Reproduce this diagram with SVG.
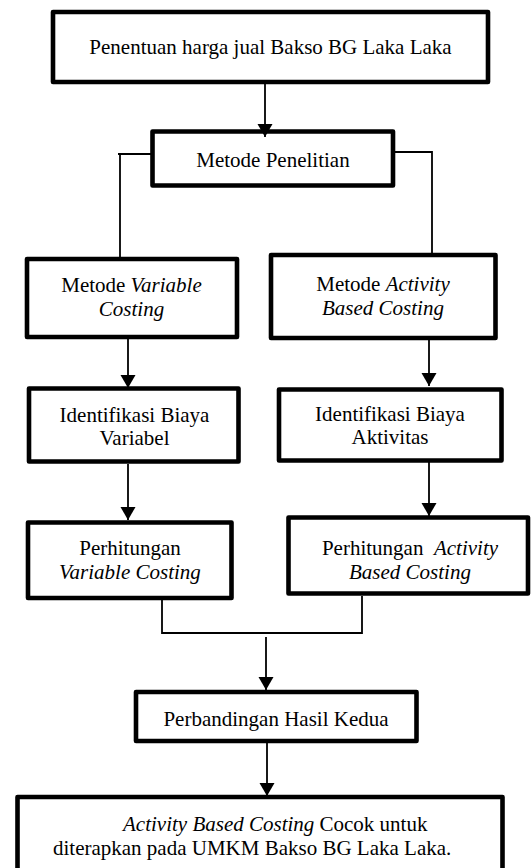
<svg xmlns="http://www.w3.org/2000/svg" width="531" height="868" viewBox="0 0 531 868">
<style>
.box{fill:#fff;stroke:#000;stroke-width:4.6;stroke-linejoin:round}
.t{font-family:"Liberation Serif","Times New Roman",serif;font-size:21px;fill:#000;text-anchor:middle}
.ts{font-family:"Liberation Serif","Times New Roman",serif;font-size:21px;fill:#000;text-anchor:start}
.i{font-style:italic}
.c{fill:none;stroke:#000;stroke-width:1.8}
</style>
<defs>
<marker id="ah" markerUnits="userSpaceOnUse" markerWidth="13" markerHeight="16" refX="13" refY="8" orient="auto">
<path d="M0,0.5 L13,8 L0,15.5 z" fill="#000"/>
</marker>
</defs>
<rect width="531" height="868" fill="#fff"/>
<g id="n1">
<rect class="box" x="53" y="12" width="435" height="70"/>
<text class="t" x="270.5" y="54">Penentuan harga jual Bakso BG Laka Laka</text>
</g>
<g id="n2">
<rect class="box" x="152.5" y="131.5" width="240.5" height="54"/>
<text class="t" x="273" y="167">Metode Penelitian</text>
</g>
<g id="n3">
<rect class="box" x="27" y="259" width="210" height="78"/>
<text class="t" x="131.5" y="292">Metode <tspan class="i">Variable</tspan></text>
<text class="t i" x="131.5" y="316">Costing</text>
</g>
<g id="n4">
<rect class="box" x="271" y="255" width="224.5" height="83"/>
<text class="t" x="383" y="291">Metode <tspan class="i">Activity</tspan></text>
<text class="t i" x="383" y="315">Based Costing</text>
</g>
<g id="n5">
<rect class="box" x="29" y="388.5" width="209.5" height="73"/>
<text class="t" x="134.5" y="422">Identifikasi Biaya</text>
<text class="t" x="134.5" y="445">Variabel</text>
</g>
<g id="n6">
<rect class="box" x="279" y="389.5" width="222.5" height="71"/>
<text class="t" x="390" y="421">Identifikasi Biaya</text>
<text class="t" x="390" y="444">Aktivitas</text>
</g>
<g id="n7">
<rect class="box" x="28" y="522.5" width="203.5" height="75.5"/>
<text class="t" x="130" y="555">Perhitungan</text>
<text class="t i" x="130" y="579">Variable Costing</text>
</g>
<g id="n8">
<rect class="box" x="288.5" y="517.5" width="239.5" height="76"/>
<text class="t" x="410" y="555" xml:space="preserve">Perhitungan&#160; <tspan class="i">Activity</tspan></text>
<text class="t i" x="410" y="579">Based Costing</text>
</g>
<g id="n9">
<rect class="box" x="136" y="692" width="280.5" height="49"/>
<text class="t" x="276" y="726">Perbandingan Hasil Kedua</text>
</g>
<g id="n10">
<rect class="box" x="17.5" y="797" width="485" height="100"/>
<text class="ts" x="123" y="831"><tspan class="i">Activity Based Costing</tspan> Cocok untuk</text>
<text class="ts" x="53" y="855">diterapkan pada UMKM Bakso BG Laka Laka.</text>
</g>
<g id="connectors">
<line class="c" x1="265" y1="84" x2="265" y2="137" marker-end="url(#ah)"/>
<polyline class="c" points="152,154 118,154"/>
<line class="c" x1="120" y1="154" x2="120" y2="257"/>
<polyline class="c" points="393,152 432,152 432,253"/>
<line class="c" x1="128" y1="339" x2="128" y2="388" marker-end="url(#ah)"/>
<line class="c" x1="429" y1="336" x2="429" y2="386" marker-end="url(#ah)"/>
<line class="c" x1="128" y1="464" x2="128" y2="520" marker-end="url(#ah)"/>
<line class="c" x1="429" y1="462" x2="429" y2="516" marker-end="url(#ah)"/>
<polyline class="c" points="162,600 162,633 362,633 362,596"/>
<line class="c" x1="266" y1="637" x2="266" y2="690" marker-end="url(#ah)"/>
<line class="c" x1="267" y1="743" x2="267" y2="796" marker-end="url(#ah)"/>
</g>
</svg>
